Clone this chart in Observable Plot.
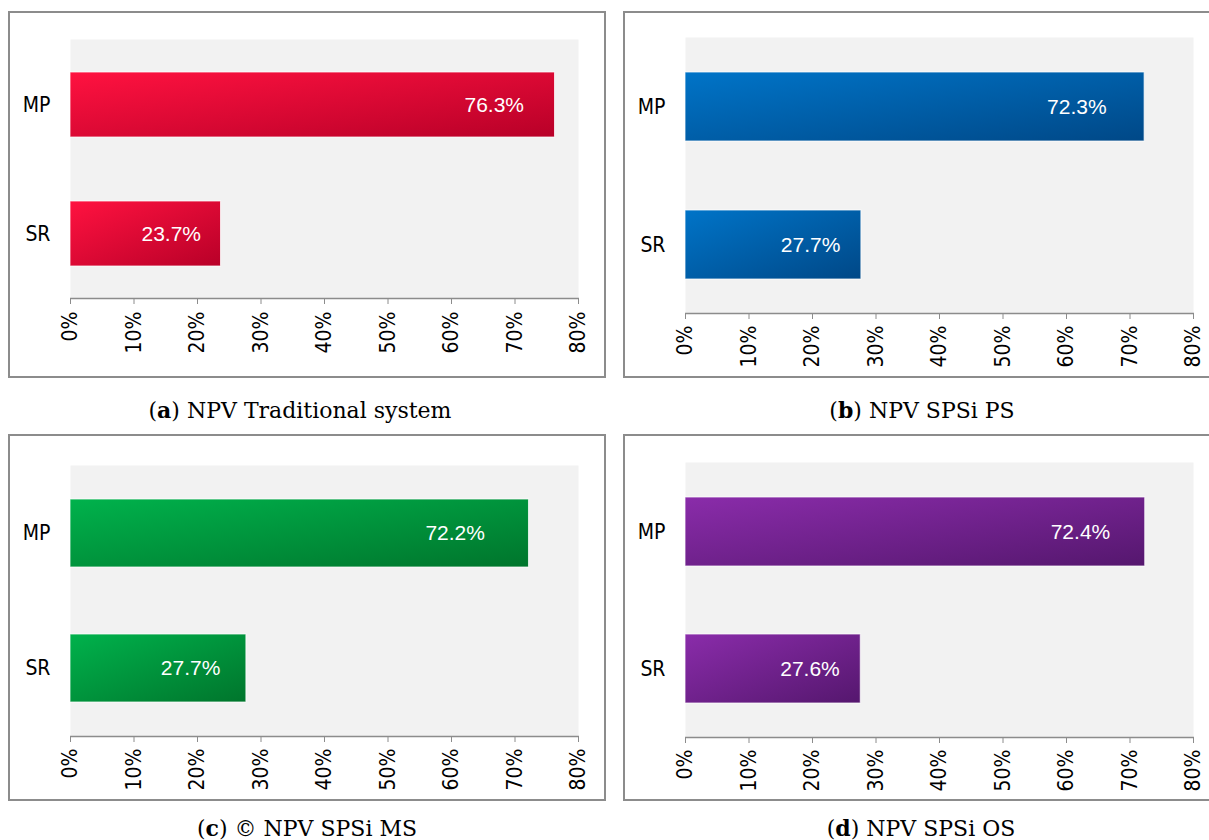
<!DOCTYPE html>
<html>
<head>
<meta charset="utf-8">
<script src="https://cdn.jsdelivr.net/npm/d3@7"></script>
<script src="https://cdn.jsdelivr.net/npm/@observablehq/plot@0.6"></script>
<style>
  html, body { margin: 0; padding: 0; background: #fff; overflow: hidden; }
  body { position: relative; width: 1209px; height: 840px; }
  .box { position: absolute; box-sizing: border-box; border: 2px solid #8c8c8c; }
  .chart { position: absolute; }
  .cap { position: absolute; width: 600px; text-align: center; font-family: "DejaVu Serif", serif; font-size: 22px; line-height: 26px; color: #000; white-space: nowrap; }
</style>
</head>
<body>
<script>
// ---- data ----
const categories = ["MP", "SR"];
const valuesA = [76.3, 23.7];
const valuesB = [72.3, 27.7];
const valuesC = [72.2, 27.7];
const valuesD = [72.4, 27.6];
const xTicks = [0, 10, 20, 30, 40, 50, 60, 70, 80];
const valueLabelsA = ["76.3%", "23.7%"];
const valueLabelsB = ["72.3%", "27.7%"];
const valueLabelsC = ["72.2%", "27.7%"];
const valueLabelsD = ["72.4%", "27.6%"];
const captionLetters = ["a", "b", "c", "d"];
const captionTexts = [" NPV Traditional system", " NPV SPSi PS", " © NPV SPSi MS", " NPV SPSi OS"];

const axisFont = '"DejaVu Sans Condensed", "DejaVu Sans", sans-serif';

function panel(cfg) {
  const {values, labels, gid, c1, c2, left, top, width, height, mt, mb, ml, mr, dxMP, dxSR, tickPad} = cfg;
  const data = categories.map((c, i) => ({cat: c, value: values[i], label: labels[i]}));
  const defs = () => {
    const ns = "http://www.w3.org/2000/svg";
    const d = document.createElementNS(ns, "defs");
    d.innerHTML = `<linearGradient id="${gid}" x1="0" y1="0" x2="1" y2="1">
      <stop offset="0" stop-color="${c1}"/><stop offset="1" stop-color="${c2}"/></linearGradient>`;
    return d;
  };
  const baseLine = (index, scales, vals, dims) => {
    const ns = "http://www.w3.org/2000/svg";
    const l = document.createElementNS(ns, "line");
    const y = dims.height - dims.marginBottom + 0.5;
    l.setAttribute("x1", dims.marginLeft);
    l.setAttribute("x2", dims.width - dims.marginRight + 1);
    l.setAttribute("y1", y);
    l.setAttribute("y2", y);
    l.setAttribute("stroke", "#8c8c8c");
    l.setAttribute("stroke-width", 1.5);
    return l;
  };
  const svg = Plot.plot({
    width, height,
    marginTop: mt, marginBottom: mb, marginLeft: ml, marginRight: mr,
    style: {fontFamily: axisFont, fontSize: "21px", color: "#000", background: "transparent", overflow: "visible"},
    x: {domain: [0, 80], axis: null},
    y: {domain: categories, paddingInner: 0.5, paddingOuter: 0.25, axis: null},
    marks: [
      defs,
      Plot.frame({fill: "#f2f2f2", stroke: "none"}),
      Plot.barX(data, {x: "value", y: "cat", fill: `url(#${gid})`, stroke: "#ffffff", strokeOpacity: 0.75, strokeWidth: 1}),
      Plot.text(data.filter(d => d.cat === "MP"), {x: "value", y: "cat", text: "label", textAnchor: "end", dx: -dxMP, fill: "#fff", fontSize: 21, fontFamily: '"Liberation Sans", Arial, sans-serif'}),
      Plot.text(data.filter(d => d.cat === "SR"), {x: "value", y: "cat", text: "label", textAnchor: "end", dx: -dxSR, fill: "#fff", fontSize: 21, fontFamily: '"Liberation Sans", Arial, sans-serif'}),
      baseLine,
      Plot.axisX({ticks: xTicks, tickFormat: d => d + "%", tickRotate: -90, tickSize: 6, tickPadding: tickPad, stroke: "#8c8c8c", fill: "#000", fontSize: 21, label: null}),
      Plot.axisY({tickSize: 0, tickPadding: 20, fill: "#000", fontSize: 21, label: null})
    ]
  });
  svg.classList.add("chart");
  svg.style.left = left + "px";
  svg.style.top = top + "px";
  svg.style.position = "absolute";
  document.body.appendChild(svg);
}

function box(left, top, w, h) {
  const d = document.createElement("div");
  d.className = "box";
  d.style.left = left + "px"; d.style.top = top + "px";
  d.style.width = w + "px"; d.style.height = h + "px";
  document.body.appendChild(d);
}

function caption(i, cx, cy) {
  const d = document.createElement("div");
  d.className = "cap";
  d.style.left = (cx - 300) + "px";
  d.style.top = (cy - 13) + "px";
  const b = document.createElement("b");
  b.textContent = captionLetters[i];
  d.append("(", b, ")", captionTexts[i]);
  document.body.appendChild(d);
}

box(8, 11, 598, 367);
box(623, 11, 600, 367);
box(8, 434, 598, 367);
box(623, 434, 600, 367);

panel({values: valuesA, labels: valueLabelsA, gid: "gA", c1: "#ff1240", c2: "#b80028",
  left: 9, top: 12, width: 597, height: 365, mt: 27, mb: 79, ml: 61, mr: 28, dxMP: 31, dxSR: 20, tickPad: 7});
panel({values: valuesB, labels: valueLabelsB, gid: "gB", c1: "#0074c8", c2: "#004887",
  left: 624, top: 12, width: 585, height: 365, mt: 25, mb: 64, ml: 61, mr: 16, dxMP: 38, dxSR: 21, tickPad: 6});
panel({values: valuesC, labels: valueLabelsC, gid: "gC", c1: "#00b24c", c2: "#00752c",
  left: 9, top: 435, width: 597, height: 365, mt: 30, mb: 64, ml: 61, mr: 28, dxMP: 44, dxSR: 26, tickPad: 6});
panel({values: valuesD, labels: valueLabelsD, gid: "gD", c1: "#8a2caa", c2: "#55176e",
  left: 624, top: 435, width: 585, height: 365, mt: 27, mb: 63, ml: 61, mr: 16, dxMP: 35, dxSR: 21, tickPad: 6});

caption(0, 300, 410);
caption(1, 922, 410);
caption(2, 307, 828);
caption(3, 921, 828);
</script>
</body>
</html>
